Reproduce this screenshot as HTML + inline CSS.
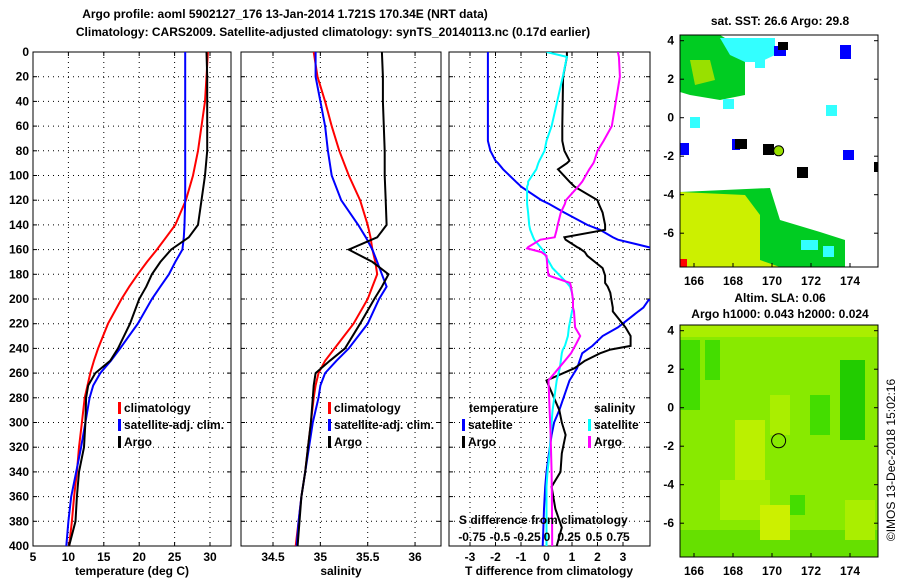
<!DOCTYPE html>
<html><head><meta charset="utf-8"><style>
body{margin:0;background:#fff;}
svg text{font-family:"Liberation Sans",sans-serif;font-weight:bold;font-size:12px;fill:#000;}
</style></head><body>
<svg id="chart" width="900" height="580">
<text x="285" y="18" text-anchor="middle">Argo profile: aoml 5902127_176 13-Jan-2014 1.721S 170.34E (NRT data)</text>
<text x="333" y="36" text-anchor="middle">Climatology: CARS2009. Satellite-adjusted climatology: synTS_20140113.nc (0.17d earlier)</text>
<g id="g"></g>
</svg>
<script>
const depths=[0,20,40,60,80,100,120,140,150,160,170,180,190,200,220,240,250,260,270,280,300,320,340,360,380,400];
const tempArgo=[29.5,29.6,29.6,29.6,29.6,29.3,28.8,28.3,27,24.5,23,21.8,21,20,18.7,17,15.9,13.8,12.8,12.5,12.4,12.2,11.5,11.2,11,10.1];
const tempClim=[29.7,29.5,29.3,28.8,28.3,27.6,26.6,25.1,23.8,22.5,21.1,19.8,18.6,17.5,15.6,14.2,13.6,13.1,12.7,12.3,11.9,11.5,11.2,10.8,10.5,10.1];
const tempSat=[26.5,26.5,26.5,26.5,26.5,26.5,26.5,26.4,26.3,26.1,25.1,24.2,23,21.8,19.8,17.3,16,14.5,13.5,13,12.4,11.8,11.1,10.4,10,9.7];
const salArgo=[35.65,35.66,35.66,35.67,35.68,35.68,35.69,35.7,35.6,35.3,35.55,35.72,35.65,35.57,35.42,35.26,35.1,34.95,34.93,34.92,34.9,34.87,34.84,34.8,34.78,34.76];
const salClim=[34.93,34.97,35.05,35.12,35.2,35.3,35.42,35.5,35.53,35.55,35.58,35.6,35.55,35.5,35.35,35.15,35.05,34.98,34.95,34.93,34.9,34.87,34.84,34.8,34.77,34.74];
const salSat=[34.95,34.95,35.0,35.05,35.08,35.12,35.22,35.4,35.48,35.55,35.6,35.65,35.7,35.62,35.5,35.3,35.17,35.05,35.0,34.98,34.92,34.88,34.84,34.8,34.77,34.75];
const dDepths=[0,4,20,60,72,80,88,90,95,105,107,109,120,123,130,140,144,150,152,158,159,162,165,175,181,187,190,195,201,207,210,223,230,238,241,244,250,256,266,290,300,310,325,340,352,370,385,400];
const dTsat=[-2.3,-2.3,-2.3,-2.3,-2.3,-2.2,-2.0,-1.9,-1.7,-1.2,-1.1,-1.0,-0.2,0.1,0.7,1.6,2.1,2.6,2.8,4,4.2,5,6,8,8,8,7,6,4,3.8,3.6,2.8,2.2,1.8,1.6,1.4,1.3,1.2,0.9,0.5,0.3,0.2,0.1,0.0,-0.05,-0.1,-0.12,-0.15];
const dTargo=[0.8,0.8,0.65,0.62,0.62,0.7,0.9,0.8,0.45,0.9,1.0,1.1,2.0,2.05,2.2,2.3,2.3,0.7,0.75,1.2,1.3,1.5,1.6,2.2,2.3,2.3,2.4,2.5,2.55,2.6,2.6,3.1,3.3,3.3,2.5,2.1,1.5,1.1,0.0,0.5,0.6,0.75,0.6,0.55,0.2,0.35,0.6,0.4];
const dSsat=[0,0.2,0.16,0.05,0,-0.02,-0.07,-0.08,-0.1,-0.18,-0.18,-0.19,-0.19,-0.19,-0.18,-0.17,-0.16,-0.13,-0.12,-0.06,-0.05,-0.02,-0.01,0.06,0.13,0.2,0.23,0.25,0.26,0.26,0.25,0.22,0.21,0.18,0.16,0.15,0.14,0.13,0.1,0.06,0.05,0.04,0.03,0.01,0.0,0.0,0.0,0.0];
const dSargo=[0.7,0.71,0.72,0.64,0.56,0.5,0.47,0.46,0.42,0.35,0.33,0.31,0.19,0.18,0.14,0.11,0.1,0.08,-0.06,-0.18,-0.19,-0.05,0.0,0.01,0.02,0.23,0.24,0.25,0.26,0.26,0.27,0.28,0.33,0.28,0.26,0.24,0.18,0.12,0.02,0.03,0.035,0.04,0.045,0.05,0.052,0.054,0.055,0.056];
const latTicks=[4,2,0,-2,-4,-6];
const lonTicks=[166,168,170,172,174];

const NS='http://www.w3.org/2000/svg';
const G=document.getElementById('g');
function el(t,a,p){const e=document.createElementNS(NS,t);for(const k in a)e.setAttribute(k,a[k]);(p||G).appendChild(e);return e;}
const Y0=52,Y1=546;
const yD=d=>Y0+(d/400)*(Y1-Y0);
const xT=t=>33+(t-5)*7.08;
const xS=s=>273+(s-34.5)*94.7;
const xDT=d=>546.5+d*25.5;
const xDS=s=>546.5+s*102;
function panel(x0,x1,ticksX,fx,name){
  const b=el('rect',{x:x0,y:Y0,width:x1-x0,height:Y1-Y0,fill:'#fff',stroke:'#000','stroke-width':1});
  
  for(let d=20;d<400;d+=20){el('line',{x1:x0,x2:x1,y1:yD(d),y2:yD(d),stroke:'#000','stroke-dasharray':'1,4','stroke-width':1});}
  ticksX.forEach(t=>{const x=fx(t);el('line',{x1:x,x2:x,y1:Y0,y2:Y1,stroke:'#000','stroke-dasharray':'1,4'});
    el('line',{x1:x,x2:x,y1:Y1,y2:Y1-4,stroke:'#000'});el('line',{x1:x,x2:x,y1:Y0,y2:Y0+4,stroke:'#000'});
    const tx=el('text',{x:x,y:Y1+15,'text-anchor':'middle'});tx.textContent=t;
    });
  for(let d=0;d<=400;d+=20){el('line',{x1:x0,x2:x0+4,y1:yD(d),y2:yD(d),stroke:'#000'});el('line',{x1:x1,x2:x1-4,y1:yD(d),y2:yD(d),stroke:'#000'});}
}
function line(dep,vals,fx,col,name,clip){
  const pts=dep.map((d,i)=>fx(vals[i]).toFixed(1)+','+yD(d).toFixed(1)).join(' ');
  const p=el('polyline',{points:pts,fill:'none',stroke:col,'stroke-width':2});
  if(clip)p.setAttribute('clip-path','url(#'+clip+')');
  
}
const defs=el('defs',{});
const cp=el('clipPath',{id:'c3'},defs);el('rect',{x:449,y:Y0,width:201,height:Y1-Y0},cp);
for(let d=0;d<=400;d+=20){const t=el('text',{x:29,y:yD(d)+4,'text-anchor':'end'});t.textContent=d;
 }
panel(33,231,[5,10,15,20,25,30],xT,'temperature');
panel(241,441,[34.5,35,35.5,36],xS,'salinity');
panel(449,650,[-3,-2,-1,0,1,2,3],xDT,'difference');
line(depths,tempClim,xT,'#f00','temp-climatology-line');
line(depths,tempSat,xT,'#00f','temp-satellite-line');
line(depths,tempArgo,xT,'#000','temp-argo-line');
line(depths,salClim,xS,'#f00','sal-climatology-line');
line(depths,salSat,xS,'#00f','sal-satellite-line');
line(depths,salArgo,xS,'#000','sal-argo-line');
line(dDepths,dTsat,xDT,'#00f','tdiff-satellite-line','c3');
line(dDepths,dTargo,xDT,'#000','tdiff-argo-line','c3');
line(dDepths,dSsat,xDS,'#0ff','sdiff-satellite-line','c3');
line(dDepths,dSargo,xDS,'#f0f','sdiff-argo-line','c3');
function txt(x,y,s,name,anchor){const t=el('text',{x:x,y:y,'text-anchor':anchor||'start'});t.textContent=s;return t;}
function leg(x,y,col,s,name){el('rect',{x:x,y:y-10,width:3,height:12,fill:col});txt(x+6,y,s,name);}
leg(118,412,'#f00','climatology','legend-temp-climatology');leg(118,429,'#00f','satellite-adj. clim.','legend-temp-satellite');leg(118,446,'#000','Argo','legend-temp-argo');
leg(328,412,'#f00','climatology','legend-sal-climatology');leg(328,429,'#00f','satellite-adj. clim.','legend-sal-satellite');leg(328,446,'#000','Argo','legend-sal-argo');
txt(469,412,'temperature','legend-temp-header');txt(594,412,'salinity','legend-sal-header');
leg(462,429,'#00f','satellite','legend-tdiff-satellite');leg(462,446,'#000','Argo','legend-tdiff-argo');
leg(588,429,'#0ff','satellite','legend-sdiff-satellite');leg(588,446,'#f0f','Argo','legend-sdiff-argo');
txt(459,524,'S difference from climatology','sdiff-axis-title');
[[-0.75,472],[-0.5,500],[-0.25,527],[0,547],[0.25,569],[0.5,594],[0.75,618]].forEach(a=>txt(a[1],541,String(a[0]),'sdiff-tick-label','middle'));
txt(132,575,'temperature (deg C)','temperature-axis-title','middle');
txt(341,575,'salinity','salinity-axis-title','middle');
txt(549,575,'T difference from climatology','tdiff-axis-title','middle');
const lx=l=>694+(l-166)*19.5;
function map(top){return a=>top+5.7+(4-a)*19.25;}
function mapFrame(top,ly,name){
  el('rect',{x:680,y:top,width:198,height:232,fill:'none',stroke:'#000'});
  latTicks.forEach(a=>{const y=ly(a);el('line',{x1:680,x2:684,y1:y,y2:y,stroke:'#000'});el('line',{x1:878,x2:874,y1:y,y2:y,stroke:'#000'});
    txt(674,y+4,a,name+'-lat-label','end');});
  lonTicks.forEach(l=>{const x=lx(l);el('line',{x1:x,x2:x,y1:top+232,y2:top+228,stroke:'#000'});txt(x,top+250,l,name+'-lon-label','middle');});
}
const t1=35,ly1=map(t1);
const sst=el('g',{});
el('rect',{x:680,y:t1,width:198,height:232,fill:'#fff'},sst);
el('polygon',{points:'680,192 770,188 780,220 820,232 845,240 845,267 680,267',fill:'#00cc22'},sst);
el('polygon',{points:'680,192 745,195 760,215 760,260 780,267 680,267',fill:'#ccf000'},sst);
el('polygon',{points:'680,35 720,35 745,50 745,95 720,100 690,95 680,92',fill:'#00cc22'},sst);
el('polygon',{points:'690,60 710,60 715,80 695,85',fill:'#99e000'},sst);
el('polygon',{points:'720,38 775,38 775,55 760,62 745,62 730,55',fill:'#33ffff'},sst);
[[723,99,11,10],[690,117,10,11],[826,105,11,11],[823,246,11,11],[801,240,17,10],[755,58,10,10]].forEach(r=>el('rect',{x:r[0],y:r[1],width:r[2],height:r[3],fill:'#33ffff'},sst));
[[840,45,11,14],[680,143,9,12],[732,139,8,11],[843,150,11,10],[774,46,12,10]].forEach(r=>el('rect',{x:r[0],y:r[1],width:r[2],height:r[3],fill:'#0000ff'},sst));
[[735,139,12,10],[763,144,11,11],[797,167,11,11],[874,162,4,10],[778,42,10,8]].forEach(r=>el('rect',{x:r[0],y:r[1],width:r[2],height:r[3],fill:'#000'},sst));
el('rect',{x:680,y:259,width:7,height:8,fill:'#f00'},sst);
el('circle',{cx:lx(170.34),cy:ly1(-1.72),r:5,fill:'#99e000',stroke:'#000'},sst);
mapFrame(t1,ly1,'sst-map');
txt(780,25,'sat. SST: 26.6 Argo: 29.8','sst-map-title','middle');
const t2=325,ly2=map(t2);
const sla=el('g',{});
el('rect',{x:680,y:t2,width:198,height:232,fill:'#88ea00'},sla);
[[680,340,20,70,'#44dd00'],[705,340,15,40,'#44dd00'],[840,360,25,80,'#22cc00'],[810,395,20,40,'#44dd00'],[680,530,198,27,'#66e000'],[790,495,15,20,'#44dd00']].forEach(r=>el('rect',{x:r[0],y:r[1],width:r[2],height:r[3],fill:r[4]},sla));
[[735,420,30,60,'#bbf000'],[720,480,50,40,'#aaee00'],[760,505,30,35,'#ccf000'],[770,395,20,40,'#aaee00'],[845,500,30,40,'#aaee00'],[680,325,198,12,'#aaee00']].forEach(r=>el('rect',{x:r[0],y:r[1],width:r[2],height:r[3],fill:r[4]},sla));
el('circle',{cx:lx(170.34),cy:ly2(-1.72),r:7,fill:'none',stroke:'#000'},sla);
mapFrame(t2,ly2,'sla-map');
txt(780,302,'Altim. SLA: 0.06','sla-map-title','middle');
txt(780,318,'Argo h1000: 0.043 h2000: 0.024','sla-map-subtitle','middle');
const c=txt(0,0,'©IMOS 13-Dec-2018 15:02:16','copyright-label','middle');c.setAttribute('transform','translate(895,460) rotate(-90)');c.style.fontWeight='normal';
</script>
</body></html>
